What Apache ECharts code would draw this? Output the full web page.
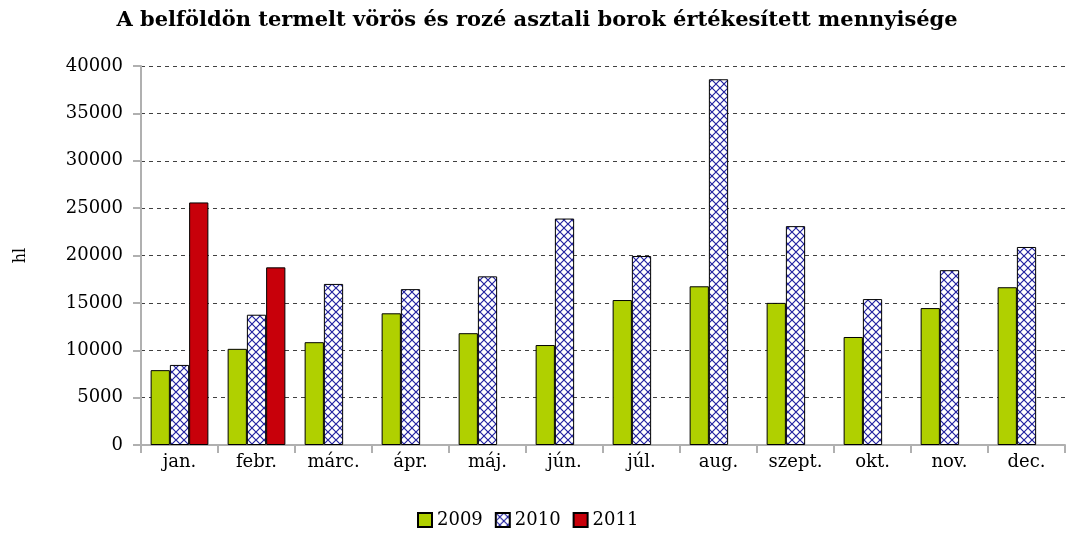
<!DOCTYPE html>
<html>
<head>
<meta charset="utf-8">
<script src="https://cdn.jsdelivr.net/npm/echarts@6/dist/echarts.min.js"></script>
<style>
  html, body { margin: 0; padding: 0; background: #fff; }
  #main { width: 1074px; height: 536px; }
</style>
</head>
<body>
<div id="main"></div>
<script>
var months = ['jan.', 'febr.', 'márc.', 'ápr.', 'máj.', 'jún.', 'júl.', 'aug.', 'szept.', 'okt.', 'nov.', 'dec.']
var yTicks = [0, 5000, 10000, 15000, 20000, 25000, 30000, 35000, 40000]
var v2009 = [7900, 10150, 10850, 13900, 11800, 10550, 15300, 16750, 15000, 11400, 14450, 16650]
var v2010 = [8450, 13750, 17000, 16450, 17800, 23900, 19950, 38600, 23100, 15400, 18450, 20900]
var v2011 = [25600, 18750, null, null, null, null, null, null, null, null, null, null]

// blue cross hatch
var hatch = document.createElement('canvas')
hatch.width = 8
hatch.height = 8
var hc = hatch.getContext('2d')
hc.fillStyle = '#ffffff'
hc.fillRect(0, 0, 8, 8)
hc.strokeStyle = '#2222a0'
hc.lineWidth = 1.2
hc.beginPath()
hc.moveTo(0, 0); hc.lineTo(8, 8)
hc.moveTo(8, 0); hc.lineTo(0, 8)
hc.stroke()

var font = '"DejaVu Serif", "Liberation Serif", serif'
var myChart = echarts.init(document.getElementById('main'))

var option = {
  animation: false,
  backgroundColor: '#ffffff',
  title: {
    text: 'A belföldön termelt vörös és rozé asztali borok értékesített mennyisége',
    left: 'center',
    top: 5,
    textStyle: { fontFamily: font, fontSize: 21, fontWeight: 'bold', color: '#000' }
  },
  legend: {
    bottom: 2,
    left: 412,
    icon: 'rect',
    itemWidth: 14,
    itemHeight: 14,
    itemGap: 12,
    textStyle: { fontFamily: font, fontSize: 18, color: '#000' },
    data: ['2009', '2010', '2011']
  },
  grid: { left: 141, right: 9, top: 66, bottom: 91, containLabel: false },
  xAxis: {
    type: 'category',
    data: months,
    axisLine: { lineStyle: { color: '#b0b0b0', width: 2 } },
    axisTick: { show: true, length: 8, lineStyle: { color: '#b0b0b0', width: 2 } },
    axisLabel: { fontFamily: font, fontSize: 18, color: '#000', margin: 8 }
  },
  yAxis: {
    type: 'value',
    min: yTicks[0],
    max: yTicks[yTicks.length - 1],
    interval: 5000,
    name: 'hl',
    nameLocation: 'middle',
    nameGap: 112,
    nameRotate: 90,
    nameTextStyle: { fontFamily: font, fontSize: 16, color: '#000' },
    axisLine: { show: true, lineStyle: { color: '#b0b0b0', width: 2 } },
    axisTick: { show: true, length: 8, lineStyle: { color: '#b0b0b0', width: 2 } },
    axisLabel: { fontFamily: font, fontSize: 18, color: '#000', margin: 18, formatter: function (v) { return String(v) } },
    splitLine: { lineStyle: { color: '#404040', type: [4, 4], width: 1 } }
  },
  series: [
    {
      name: '2009', type: 'bar', data: v2009,
      barGap: '0%', barCategoryGap: '25%',
      itemStyle: { color: '#b0d000', borderColor: '#000', borderWidth: 1 }
    },
    {
      name: '2010', type: 'bar', data: v2010,
      barGap: '0%', barCategoryGap: '25%',
      itemStyle: { color: { image: hatch, repeat: 'repeat' }, borderColor: '#000', borderWidth: 1 }
    },
    {
      name: '2011', type: 'bar', data: v2011,
      barGap: '0%', barCategoryGap: '25%',
      itemStyle: { color: '#c8000a', borderColor: '#000', borderWidth: 1 }
    }
  ]
}

myChart.setOption(option)
</script>
</body>
</html>
